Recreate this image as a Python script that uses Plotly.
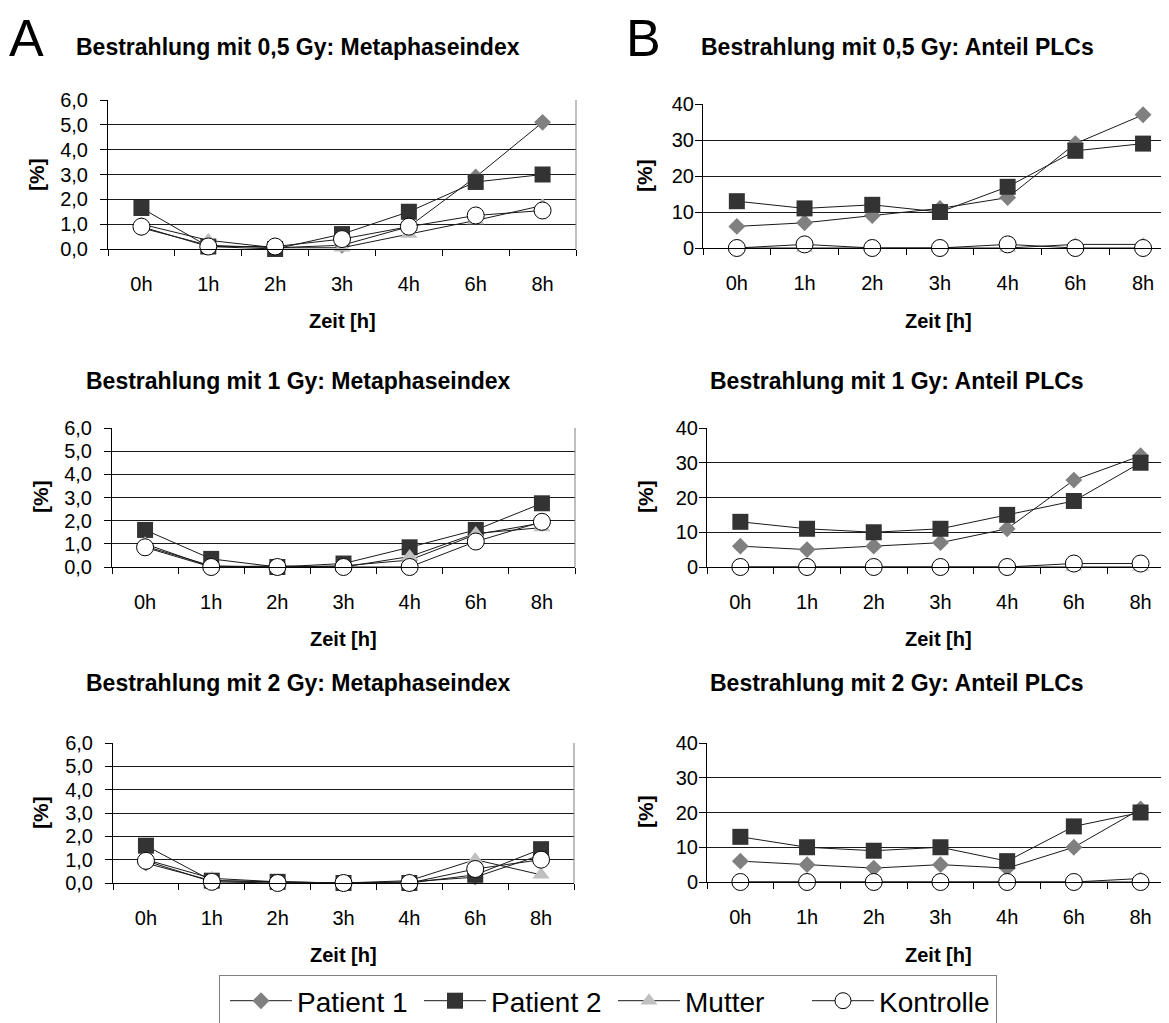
import plotly.graph_objects as go

W, H = 1169, 1023
OFF = 8  # page body margin of the browser

categories = ["0h", "1h", "2h", "3h", "4h", "6h", "8h"]
series_names = ["Patient 1", "Patient 2", "Mutter", "Kontrolle"]

# Metaphaseindex [%]
mi_05_p1 = [0.85, 0.15, 0.05, 0.15, 0.9, 2.9, 5.1]
mi_05_p2 = [1.65, 0.1, 0.0, 0.6, 1.5, 2.7, 3.0]
mi_05_mu = [1.0, 0.35, 0.05, 0.05, 0.6, 1.15, 1.75]
mi_05_ko = [0.9, 0.1, 0.1, 0.4, 0.9, 1.35, 1.55]

mi_1_p1 = [0.9, 0.05, 0.0, 0.05, 0.3, 1.4, 1.9]
mi_1_p2 = [1.6, 0.35, 0.0, 0.15, 0.85, 1.6, 2.75]
mi_1_mu = [1.0, 0.0, 0.05, 0.0, 0.45, 1.45, 1.7]
mi_1_ko = [0.85, 0.0, 0.0, 0.0, 0.0, 1.1, 1.95]

mi_2_p1 = [0.85, 0.1, 0.05, 0.0, 0.05, 0.25, 1.2]
mi_2_p2 = [1.6, 0.1, 0.05, 0.0, 0.0, 0.35, 1.45]
mi_2_mu = [1.0, 0.2, 0.05, 0.0, 0.1, 1.0, 0.35]
mi_2_ko = [0.95, 0.05, 0.0, 0.0, 0.0, 0.6, 1.0]

# Anteil PLCs [%]
plc_05_p1 = [6, 7, 9, 11, 14, 29, 37]
plc_05_p2 = [13, 11, 12, 10, 17, 27, 29]
plc_05_mu = [0, 0, 0, 0, 0, 1, 1]
plc_05_ko = [0, 1, 0, 0, 1, 0, 0]

plc_1_p1 = [6, 5, 6, 7, 11, 25, 32]
plc_1_p2 = [13, 11, 10, 11, 15, 19, 30]
plc_1_mu = [0, 0, 0, 0, 0, 0, 0]
plc_1_ko = [0, 0, 0, 0, 0, 1, 1]

plc_2_p1 = [6, 5, 4, 5, 4, 10, 21]
plc_2_p2 = [13, 10, 9, 10, 6, 16, 20]
plc_2_mu = [0, 0, 0, 0, 0, 0, 1]
plc_2_ko = [0, 0, 0, 0, 0, 0, 0]

panel_titles = [
    "Bestrahlung mit 0,5 Gy: Metaphaseindex",
    "Bestrahlung mit 0,5 Gy: Anteil PLCs",
    "Bestrahlung mit 1 Gy: Metaphaseindex",
    "Bestrahlung mit 1 Gy: Anteil PLCs",
    "Bestrahlung mit 2 Gy: Metaphaseindex",
    "Bestrahlung mit 2 Gy: Anteil PLCs",
]

FONT = "Liberation Sans, Arial, sans-serif"

styles = [
    dict(symbol="diamond", size=13, color="#808080", line=dict(width=0)),
    dict(symbol="square", size=16, color="#333333", line=dict(width=0)),
    dict(symbol="triangle-up", size=15, color="#c0c0c0", line=dict(width=0)),
    dict(symbol="circle", size=17, color="#ffffff", line=dict(width=1, color="#000000")),
]

# layout (pixel boxes in the screenshot)
panels = [
    dict(data=[mi_05_p1, mi_05_p2, mi_05_mu, mi_05_ko], x=(108, 576), y=(100, 249),
         yr=[0, 6], dt=1, fmt=".1f", right=True, ystand=8,
         title=(298, 47), xt=(342, 321), yt=(37, 175)),
    dict(data=[plc_05_p1, plc_05_p2, plc_05_mu, plc_05_ko], x=(703, 1169), y=(104, 248),
         yr=[0, 40], dt=10, fmt="d", right=False, ystand=-3, spacing=67.7,
         title=(897, 47), xt=(938, 321), yt=(645, 176)),
    dict(data=[mi_1_p1, mi_1_p2, mi_1_mu, mi_1_ko], x=(112, 575), y=(428, 567),
         yr=[0, 6], dt=1, fmt=".1f", right=True, ystand=8,
         title=(298, 381), xt=(343, 639), yt=(40, 497)),
    dict(data=[plc_1_p1, plc_1_p2, plc_1_mu, plc_1_ko], x=(707, 1169), y=(428, 567),
         yr=[0, 40], dt=10, fmt="d", right=False, ystand=-3, spacing=66.7,
         title=(897, 381), xt=(938, 639), yt=(645, 497)),
    dict(data=[mi_2_p1, mi_2_p2, mi_2_mu, mi_2_ko], x=(113, 574), y=(743, 883),
         yr=[0, 6], dt=1, fmt=".1f", right=True, ystand=8,
         title=(298, 683), xt=(343, 955), yt=(40, 813)),
    dict(data=[plc_2_p1, plc_2_p2, plc_2_mu, plc_2_ko], x=(707, 1169), y=(743, 882),
         yr=[0, 40], dt=10, fmt="d", right=False, ystand=-3, spacing=66.7,
         title=(897, 683), xt=(938, 955), yt=(645, 812)),
]

fig = go.Figure()
annotations = []
shapes = []


def px(x):
    return (x - OFF) / W


def py(y):
    return 1 - (y - OFF) / H


for i, p in enumerate(panels, start=1):
    xa = "x" if i == 1 else f"x{i}"
    ya = "y" if i == 1 else f"y{i}"
    for k, (vals, st) in enumerate(zip(p["data"], styles)):
        fig.add_trace(go.Scatter(
            x=categories, y=vals, mode="lines+markers", name=series_names[k],
            xaxis=xa, yaxis=ya, showlegend=(i == 1), cliponaxis=False,
            line=dict(color="#1a1a1a", width=1),
            marker=dict(symbol=st["symbol"], size=st["size"], color=st["color"], line=st["line"]),
        ))
    x0, x1 = p["x"]
    y0, y1 = p["y"]
    if p.get("spacing"):
        xrange = [-0.5, (x1 - x0) / p["spacing"] - 0.5]
    else:
        xrange = [-0.5, 6.5]
    xkey = "xaxis" if i == 1 else f"xaxis{i}"
    ykey = "yaxis" if i == 1 else f"yaxis{i}"
    fig.layout[xkey] = dict(
        domain=[px(x0), px(x1)], anchor=ya, type="category", range=xrange,
        categoryorder="array", categoryarray=categories,
        showline=True, linecolor="#000000", linewidth=1,
        ticks="outside", ticklen=6, tickcolor="#000000", tickson="boundaries",
        showgrid=False, zeroline=False,
        tickfont=dict(family=FONT, size=20, color="#000000"),
        ticklabelstandoff=17,
    )
    fig.layout[ykey] = dict(
        domain=[py(y1), py(y0)], anchor=xa, range=p["yr"], dtick=p["dt"], tick0=0,
        tickformat=p["fmt"],
        showline=True, linecolor="#000000", linewidth=1,
        ticks="outside", ticklen=7, tickcolor="#000000",
        showgrid=True, gridcolor="#1a1a1a", gridwidth=1, zeroline=False,
        tickfont=dict(family=FONT, size=20, color="#000000"),
        ticklabelstandoff=p["ystand"],
    )
    if p["right"]:
        shapes.append(dict(type="line", xref=f"{xa} domain", yref=f"{ya} domain",
                           x0=1, x1=1, y0=0, y1=1, line=dict(color="#808080", width=1)))
    tx, ty = p["title"]
    annotations.append(dict(text=f"<b>{panel_titles[i-1]}</b>", x=px(tx), y=py(ty),
                            xref="paper", yref="paper", showarrow=False,
                            xanchor="center", yanchor="middle",
                            font=dict(family=FONT, size=23, color="#000000")))
    zx, zy = p["xt"]
    annotations.append(dict(text="<b>Zeit [h]</b>", x=px(zx), y=py(zy),
                            xref="paper", yref="paper", showarrow=False,
                            xanchor="center", yanchor="middle",
                            font=dict(family=FONT, size=20, color="#000000")))
    qx, qy = p["yt"]
    annotations.append(dict(text="<b>[%]</b>", x=px(qx), y=py(qy), textangle=-90,
                            xref="paper", yref="paper", showarrow=False,
                            xanchor="center", yanchor="middle",
                            font=dict(family=FONT, size=21, color="#000000")))

for letter, lx in (("A", 26), ("B", 643)):
    annotations.append(dict(text=letter, x=px(lx), y=py(38), xref="paper", yref="paper",
                            showarrow=False, xanchor="center", yanchor="middle",
                            font=dict(family=FONT, size=52, color="#000000")))

fig.update_layout(
    width=W, height=H,
    margin=dict(l=0, r=0, t=0, b=0, autoexpand=False),
    paper_bgcolor="#ffffff", plot_bgcolor="#ffffff",
    separators=",.",
    annotations=annotations,
    shapes=shapes,
    legend=dict(
        orientation="h", x=px(219), xanchor="left", y=py(975), yanchor="top",
        bordercolor="#808080", borderwidth=1, bgcolor="#ffffff",
        font=dict(family=FONT, size=28, color="#000000"),
        itemwidth=62, itemsizing="trace", indentation=5,
        entrywidth=112, entrywidthmode="pixels",
        tracegroupgap=0,
    ),
    font=dict(family=FONT, color="#000000"),
)

fig.write_html("out.html")
